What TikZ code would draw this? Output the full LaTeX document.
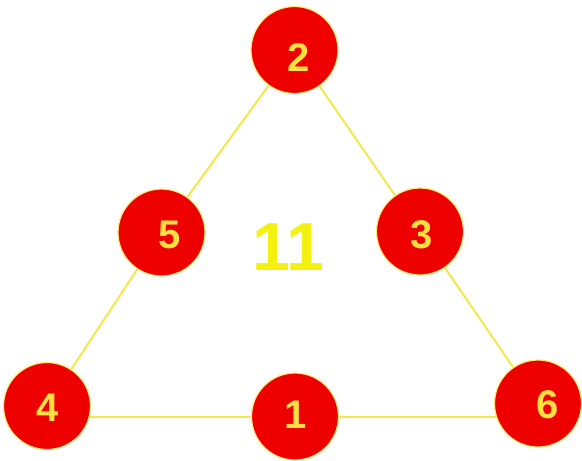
\documentclass[tikz,border=0pt]{standalone}
\usepackage{fontspec}
\setmainfont{Liberation Sans}
\usetikzlibrary{backgrounds}
\definecolor{ballred}{HTML}{EE0000}
\definecolor{lineyellow}{HTML}{F2E84A}
\definecolor{numyellow}{HTML}{FFE040}
\definecolor{bigyellow}{HTML}{F4F010}
\begin{document}
\begin{tikzpicture}[x=1pt,y=-1pt,
  ball/.style={circle,fill=ballred,draw=numyellow!70!white,line width=1.2pt,minimum size=87pt,inner sep=0pt},
  digit/.style={text=numyellow,inner sep=0pt,font=\bfseries\fontsize{40}{40}\selectfont},
  edge/.style={draw=lineyellow,line width=2pt}]
\useasboundingbox (0,0) rectangle (582,461);
\node[ball] (n2) at (294.5,50) {};
\node[ball] (n5) at (161.5,232.5) {};
\node[ball] (n3) at (420,231.5) {};
\node[ball] (n4) at (47,406) {};
\node[ball] (n1) at (295,416.5) {};
\node[ball] (n6) at (538,403.5) {};
\node[digit] (d2) at (299,58) {2};
\node[digit] (d5) at (170,235) {5};
\node[digit] (d3) at (422,235) {3};
\node[digit] (d4) at (48,408) {4};
\node[digit] (d1) at (296,415) {1};
\node[digit] (d6) at (548,405) {6};
\node[text=bigyellow,font=\bfseries\fontsize{68}{68}\selectfont] (sum) at (288,247) {11};
\begin{scope}[on background layer]
\draw[edge] (n2) -- (n5);
\draw[edge] (n5) -- (n4);
\draw[edge] (n2) -- (n3);
\draw[edge] (n3) -- (n6);
\draw[edge] (n4.center |- n1.center) -- (n6.center |- n1.center);
\end{scope}
\end{tikzpicture}
\end{document}
